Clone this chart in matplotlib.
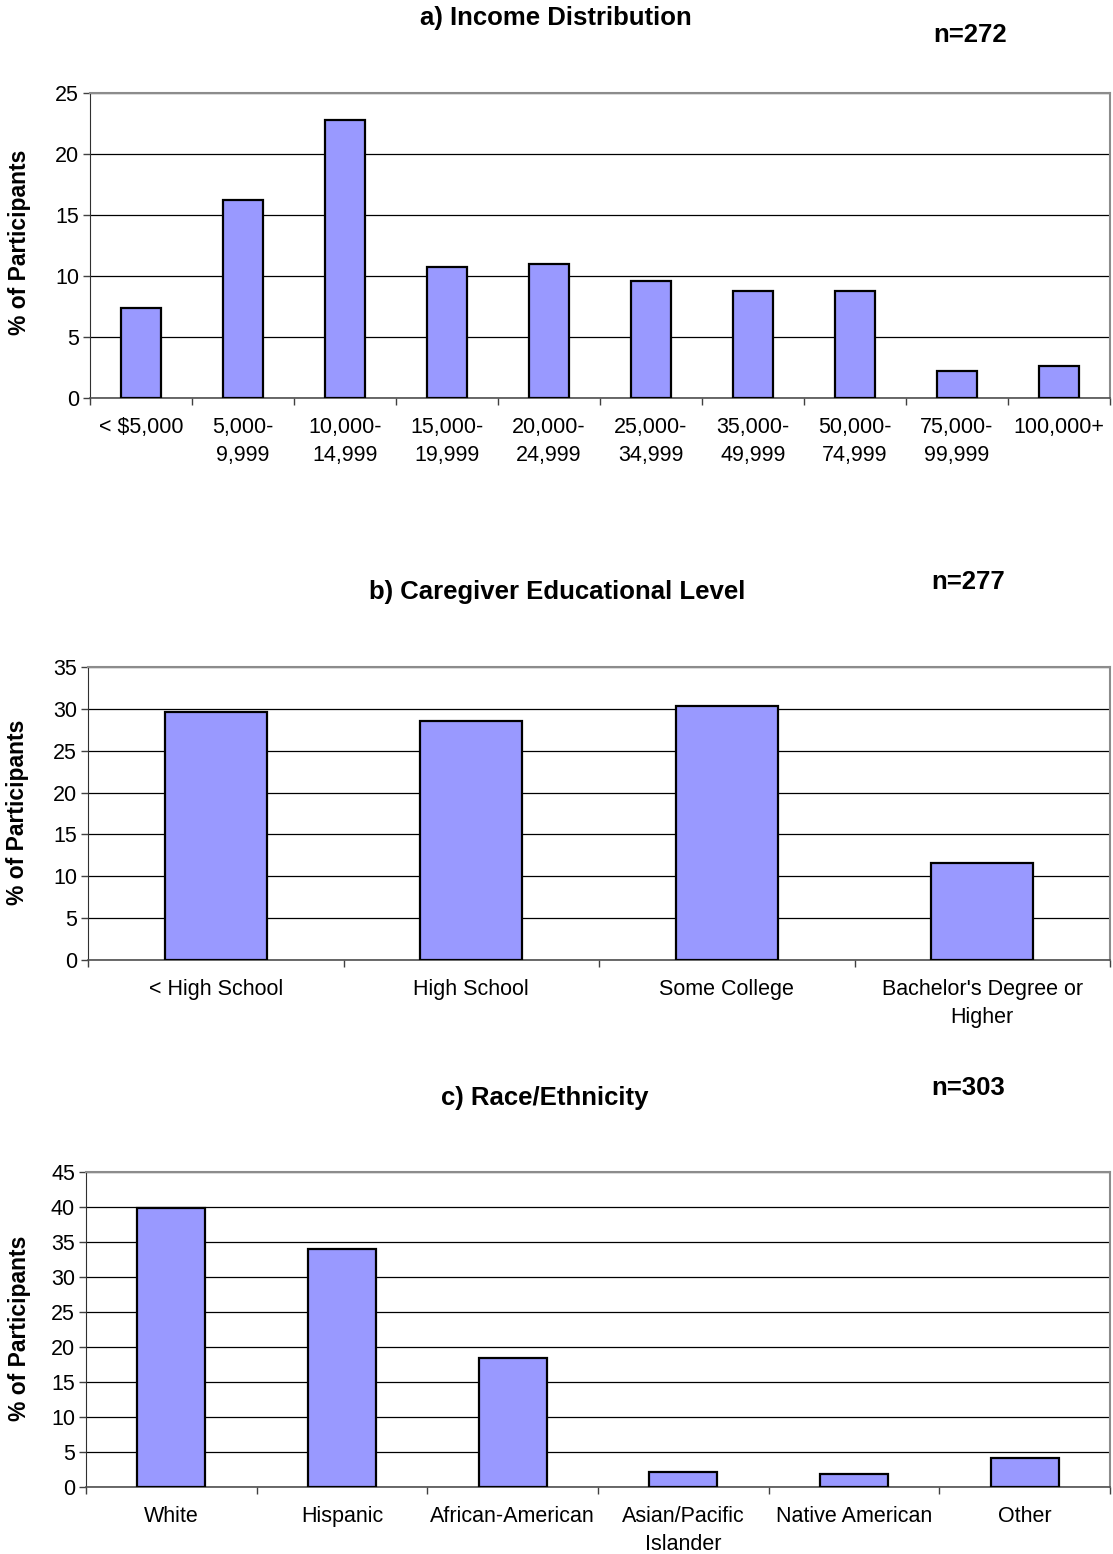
import numpy as np
import matplotlib
matplotlib.use("Agg")
import matplotlib.pyplot as plt

plt.rcParams['font.family'] = ['Liberation Sans', 'DejaVu Sans']

# a) income
income_labels = ["< $5,000", "5,000-\n9,999", "10,000-\n14,999", "15,000-\n19,999",
                 "20,000-\n24,999", "25,000-\n34,999", "35,000-\n49,999",
                 "50,000-\n74,999", "75,000-\n99,999", "100,000+"]
income_pct = [7.4, 16.2, 22.8, 10.7, 11.0, 9.6, 8.8, 8.8, 2.2, 2.6]

# b) education
edu_labels = ["< High School", "High School", "Some College", "Bachelor's Degree or\nHigher"]
edu_pct = [29.6, 28.5, 30.3, 11.6]

# c) race / ethnicity
race_labels = ["White", "Hispanic", "African-American", "Asian/Pacific\nIslander",
               "Native American", "Other"]
race_pct = [39.9, 34.0, 18.5, 2.1, 1.8, 4.1]

W, H = 1113, 1554
fig = plt.figure(figsize=(W / 100, H / 100), dpi=100)


def px_axes(left, top, right, bottom):
    return fig.add_axes([left / W, 1 - bottom / H, (right - left) / W, (bottom - top) / H])


def draw(ax, labels, vals, ymax):
    n = len(vals)
    x = np.arange(n)
    ax.bar(x, vals, width=0.4, color="#9999FF", edgecolor="black", linewidth=1.6, zorder=3)
    ax.set_xlim(-0.5, n - 0.5)
    ax.set_ylim(0, ymax)
    ax.set_yticks(np.arange(0, ymax + 1, 5))
    ax.yaxis.grid(True, color="black", linewidth=0.9, zorder=0)
    ax.set_axisbelow(True)
    ax.set_xticks(x)
    ax.set_xticklabels(labels, fontsize=15.5, linespacing=1.42)
    ax.set_xticks(np.arange(-0.5, n, 1), minor=True)
    ax.tick_params(axis="x", which="major", length=0, pad=14)
    ax.tick_params(axis="x", which="minor", length=5, width=1, color="#404040")
    ax.tick_params(axis="y", length=5, width=1, labelsize=15.5, pad=3, color="#404040")
    for s in ["top", "right"]:
        ax.spines[s].set_color("#8c8c8c")
        ax.spines[s].set_linewidth(1.5)
    ax.spines["left"].set_color("#303030")
    ax.spines["bottom"].set_color("#505050")
    ax.spines["bottom"].set_linewidth(1.2)


ax1 = px_axes(90, 93, 1110, 398)
draw(ax1, income_labels, income_pct, 25)
ax2 = px_axes(88, 667, 1110, 960)
draw(ax2, edu_labels, edu_pct, 35)
ax3 = px_axes(86, 1172, 1110, 1487)
draw(ax3, race_labels, race_pct, 45)

bold = dict(fontsize=18.5, fontweight="bold", ha="center", va="center")
fig.text(556 / W, 1 - 18 / H, "a) Income Distribution", **bold)
fig.text(970 / W, 1 - 35 / H, "n=272", **bold)
fig.text(557 / W, 1 - 592 / H, "b) Caregiver Educational Level", **bold)
fig.text(968 / W, 1 - 582 / H, "n=277", **bold)
fig.text(545 / W, 1 - 1098 / H, "c) Race/Ethnicity", **bold)
fig.text(968 / W, 1 - 1088 / H, "n=303", **bold)

ylab = dict(fontsize=16.5, fontweight="bold", ha="center", va="center", rotation=90)
fig.text(20 / W, 1 - 242 / H, "% of Participants", **ylab)
fig.text(18 / W, 1 - 812 / H, "% of Participants", **ylab)
fig.text(20 / W, 1 - 1328 / H, "% of Participants", **ylab)

fig.savefig("out.png", dpi=100)
